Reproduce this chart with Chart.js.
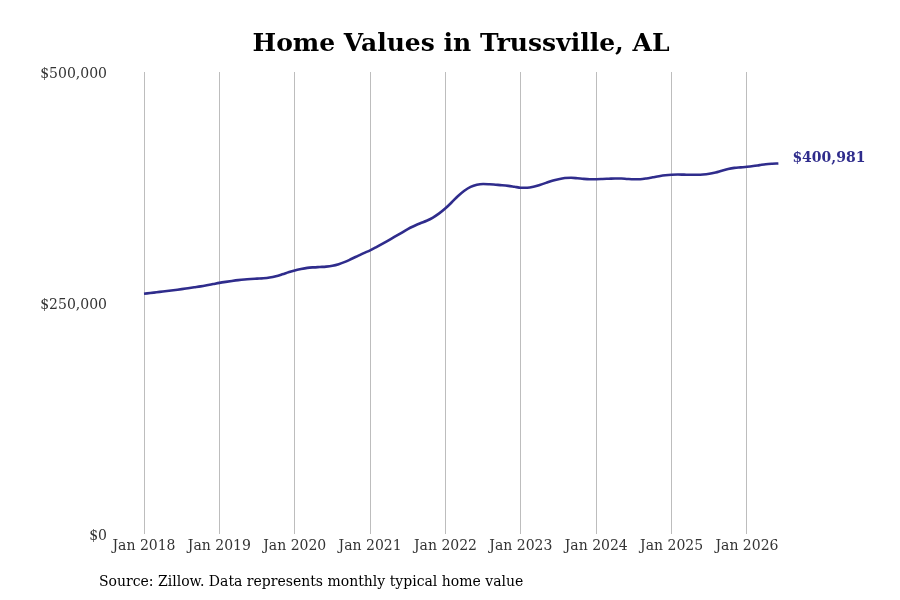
<!DOCTYPE html>
<html>
<head>
<meta charset="utf-8">
<script src="https://cdn.jsdelivr.net/npm/chart.js@4"></script>
<style>
  html, body { margin: 0; padding: 0; background: #fff; }
  #wrap { position: relative; width: 900px; height: 600px; }
  #title {
    position: absolute; left: 461px; top: 28px; transform: translateX(-50%);
    font: bold 25px "DejaVu Serif", serif; color: #000; white-space: nowrap;
  }
  #source {
    position: absolute; left: 99px; top: 573px;
    font: 14px "DejaVu Serif", serif; color: #000; white-space: nowrap;
  }
</style>
</head>
<body>
<div id="wrap">
  <canvas id="homeChart" width="900" height="600"></canvas>
  <div id="title">Home Values in Trussville, AL</div>
  <div id="source">Source: Zillow. Data represents monthly typical home value</div>
</div>
<script>
// months since Jan 2018, typical home value (Zillow)
const homeValues = [
  260000, 260800, 261600, 262400, 263200, 264100, 265000, 266000, 267000, 268000, 269200, 270500,
  271800, 272900, 273900, 274800, 275500, 276000, 276400, 276800, 277600, 279000, 281000, 283200,
  285300, 286800, 288000, 288600, 289000, 289400, 290300, 292000, 294500, 297600, 300800, 304000,
  307000, 310500, 314200, 318000, 322000, 326000, 330000, 333300, 336300, 339000, 342500, 347000,
  352500, 359000, 365800, 371500, 375700, 378000, 378800, 378500, 378000, 377500, 376800, 375800,
  374800, 374800, 375800, 377800, 380000, 382300, 384000, 385200, 385500, 385000, 384300, 384000,
  384000, 384200, 384500, 384800, 384700, 384200, 383900, 384000, 384800, 386000, 387200, 388200,
  388800, 389000, 388900, 388800, 388800, 389000, 389800, 391300, 393200, 395000, 396200, 396800,
  397400, 398200, 399200, 400200, 400700, 400981
];
const tickMonths = [0, 12, 24, 36, 48, 60, 72, 84, 96];
const tickLabels = ["Jan 2018", "Jan 2019", "Jan 2020", "Jan 2021", "Jan 2022", "Jan 2023", "Jan 2024", "Jan 2025", "Jan 2026"];
const yTicks = [0, 250000, 500000];

const lineColor = "#2f2c8c";
const points = homeValues.map((v, i) => ({ x: i, y: v }));

const endLabel = {
  id: "endLabel",
  afterDatasetsDraw(chart) {
    const meta = chart.getDatasetMeta(0);
    const last = meta.data[meta.data.length - 1];
    const v = homeValues[homeValues.length - 1];
    const ctx = chart.ctx;
    ctx.save();
    ctx.font = "bold 14px 'DejaVu Serif', serif";
    ctx.fillStyle = lineColor;
    ctx.textBaseline = "middle";
    ctx.fillText("$" + v.toLocaleString("en-US"), last.x + 14, last.y - 5);
    ctx.restore();
  }
};

Chart.defaults.font.family = "'DejaVu Serif', serif";
Chart.defaults.font.size = 14;
Chart.defaults.color = "#333";

new Chart(document.getElementById("homeChart"), {
  type: "line",
  data: {
    datasets: [{
      data: points,
      borderColor: lineColor,
      borderWidth: 2.6,
      pointRadius: 0,
      cubicInterpolationMode: "monotone",
      fill: false
    }]
  },
  options: {
    responsive: false,
    animation: false,
    layout: { padding: { top: 72, left: 15, right: 100, bottom: 0 } },
    plugins: { legend: { display: false }, tooltip: { enabled: false } },
    scales: {
      x: {
        type: "linear",
        min: (115 - 144) / 6.281,
        max: (800 - 144) / 6.281,
        afterBuildTicks: (scale) => { scale.ticks = tickMonths.map((v) => ({ value: v })); },
        afterFit: (scale) => { scale.height = 66; },
        ticks: {
          padding: 4,
          maxRotation: 0,
          callback: (v) => tickLabels[tickMonths.indexOf(v)]
        },
        grid: { color: "#bdbdbd", lineWidth: 1, drawTicks: false },
        border: { display: false }
      },
      y: {
        min: 0,
        max: 500000,
        clip: false,
        afterBuildTicks: (scale) => { scale.ticks = yTicks.map((v) => ({ value: v })); },
        afterFit: (scale) => { scale.width = 100; },
        ticks: {
          padding: 8,
          labelOffset: 2,
          callback: (v) => "$" + v.toLocaleString("en-US")
        },
        grid: { display: false, drawTicks: false },
        border: { display: false }
      }
    }
  },
  plugins: [endLabel]
});
</script>
</body>
</html>
